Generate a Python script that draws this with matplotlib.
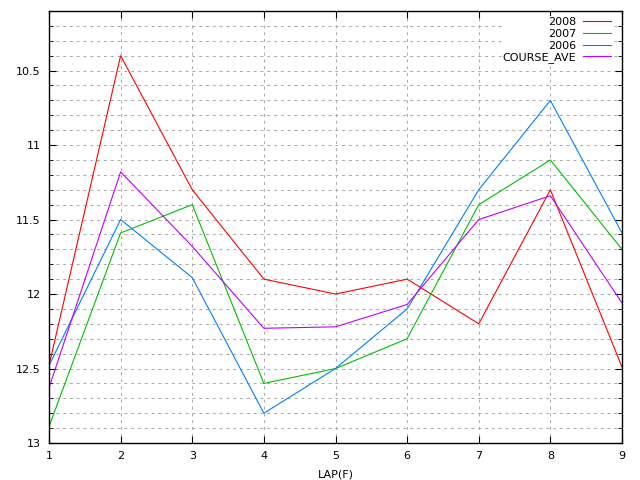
import matplotlib
matplotlib.use("Agg")
import matplotlib.pyplot as plt
import numpy as np

laps = [1, 2, 3, 4, 5, 6, 7, 8, 9]
y2008 = [12.48, 10.40, 11.30, 11.90, 12.00, 11.90, 12.20, 11.30, 12.49]
y2007 = [12.89, 11.59, 11.40, 12.60, 12.50, 12.30, 11.40, 11.10, 11.70]
y2006 = [12.48, 11.50, 11.89, 12.80, 12.50, 12.10, 11.30, 10.70, 11.59]
course_ave = [12.63, 11.18, 11.68, 12.23, 12.22, 12.07, 11.50, 11.34, 12.06]

fig = plt.figure(figsize=(6.4, 4.8), dpi=100)
ax = fig.add_axes([49/640, 1-443/480, (622-49)/640, (443-11)/480])

lw = 0.8
ax.plot(laps, y2008, color='#ff0000', lw=lw, label='2008')
ax.plot(laps, y2007, color='#00c000', lw=lw, label='2007')
ax.plot(laps, y2006, color='#0080ff', lw=lw, label='2006')
ax.plot(laps, course_ave, color='#c000ff', lw=lw, label='COURSE_AVE')

ax.set_xlim(1, 9)
ax.set_ylim(13, 10.1)
ax.set_xticks(laps)
ax.set_yticks([10.5, 11, 11.5, 12, 12.5, 13])
ax.set_yticklabels(['10.5', '11', '11.5', '12', '12.5', '13'])
ax.set_yticks(np.arange(10.2, 13.0, 0.1), minor=True)
ax.tick_params(which='both', direction='in', top=True, right=True, labelsize=8, pad=6)
ax.tick_params(which='major', length=5)
ax.tick_params(which='minor', length=3)
ax.grid(True, which='both', color='#a8a8a8', linestyle=(0, (3, 4)), linewidth=0.7)
for s in ax.spines.values():
    s.set_linewidth(1.0)
    s.set_zorder(5)

ax.set_xlabel('LAP(F)', fontsize=8, labelpad=6)

leg = ax.legend(loc='upper right', bbox_to_anchor=(0.9825, 0.988), frameon=True,
                facecolor='white', edgecolor='none', framealpha=1.0, fancybox=False,
                markerfirst=False, fontsize=8, handlelength=2.5, handletextpad=0.6,
                labelspacing=0.15, borderaxespad=0, borderpad=0.1)

fig.savefig('out.png', dpi=100)
